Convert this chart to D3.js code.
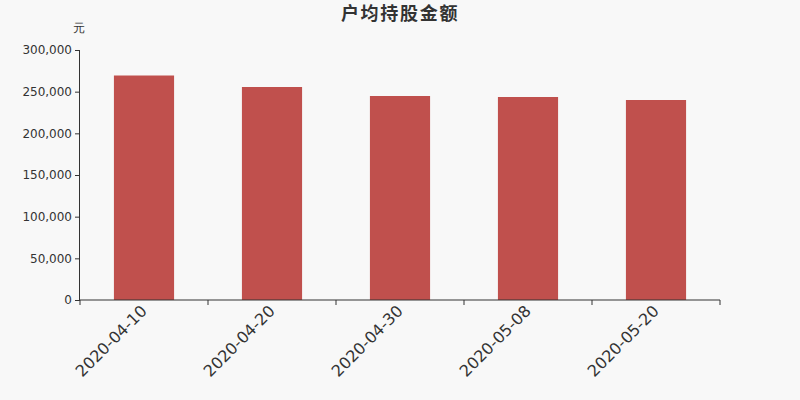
<!DOCTYPE html>
<html>
<head>
<meta charset="utf-8">
<script src="https://cdn.jsdelivr.net/npm/d3@7"></script>
<style>
  body { margin: 0; background: #f8f8f8; }
  svg { display: block; font-family: "DejaVu Sans", sans-serif; }
</style>
</head>
<body>
<div id="chart"></div>
<script>
// data
const dates = ["2020-04-10", "2020-04-20", "2020-04-30", "2020-05-08", "2020-05-20"];
const amounts = [269400, 255600, 244800, 243600, 240000];
const yTicks = [0, 50000, 100000, 150000, 200000, 250000, 300000];

const W = 800, H = 400;
const margin = { top: 50, right: 80, bottom: 100, left: 80 };

const svg = d3.select("#chart").append("svg")
    .attr("width", W)
    .attr("height", H)
    .style("background", "#f8f8f8");

// x band scale, bars take roughly half of each band
let x = d3.scaleBand()
    .domain(dates)
    .range([margin.left, W - margin.right])
    .paddingInner(0.53)
    .paddingOuter(0.265);

let xTick = d3.scaleBand()
    .domain(dates)
    .range([margin.left, W - margin.right]);

let y = d3.scaleLinear()
    .domain([0, 300000])
    .range([H - margin.bottom, margin.top]);

// bars
svg.append("g")
    .selectAll("rect")
    .data(dates)
    .enter()
    .append("rect")
    .attr("x", d => x(d))
    .attr("width", x.bandwidth())
    .attr("y", (d, i) => y(amounts[i]))
    .attr("height", (d, i) => y(0) - y(amounts[i]))
    .attr("fill", "#c0504d");

// y axis
const axeY = d3.axisLeft(y)
    .tickValues(yTicks)
    .tickSize(5)
    .tickFormat(d3.format(","));
const gY = svg.append("g")
    .attr("transform", `translate(${margin.left},0)`)
    .call(axeY)
    .attr("font-family", "DejaVu Sans")
    .attr("font-size", 12);
gY.select(".domain").attr("stroke", "#333").attr("d", `M-0.5,${margin.top}V${H - margin.bottom}`);
gY.selectAll(".tick line").attr("stroke", "#333");
gY.selectAll(".tick text")
    .attr("fill", "#333")
    .attr("x", -8);

// x axis, ticks on band boundaries
const gX = svg.append("g")
    .attr("transform", `translate(0,${H - margin.bottom})`);
gX.append("line")
    .attr("x1", margin.left)
    .attr("x2", W - margin.right)
    .attr("stroke", "#333");
const bounds = dates.map(d => xTick(d)).concat([W - margin.right]);
gX.selectAll(".tk")
    .data(bounds)
    .enter()
    .append("line")
    .attr("x1", d => d)
    .attr("x2", d => d)
    .attr("y1", 0)
    .attr("y2", 5)
    .attr("stroke", "#333");
gX.selectAll(".lbl")
    .data(dates)
    .enter()
    .append("text")
    .attr("transform", d => `translate(${xTick(d) + xTick.bandwidth() / 2 + 4},${12}) rotate(-45)`)
    .attr("text-anchor", "end")
    .attr("fill", "#333")
    .attr("font-size", 16)
    .text(d => d);

// unit label
svg.append("text")
    .attr("x", 79)
    .attr("y", 32)
    .attr("text-anchor", "middle")
    .attr("fill", "#333")
    .attr("font-size", 12)
    .text("元");

// title
svg.append("text")
    .attr("x", 400)
    .attr("y", 20)
    .attr("text-anchor", "middle")
    .attr("fill", "#333")
    .attr("font-size", 18)
    .attr("letter-spacing", 1.7)
    .attr("font-weight", "bold")
    .attr("font-family", "Noto Sans CJK SC")
    .text("户均持股金额");
</script>
</body>
</html>
